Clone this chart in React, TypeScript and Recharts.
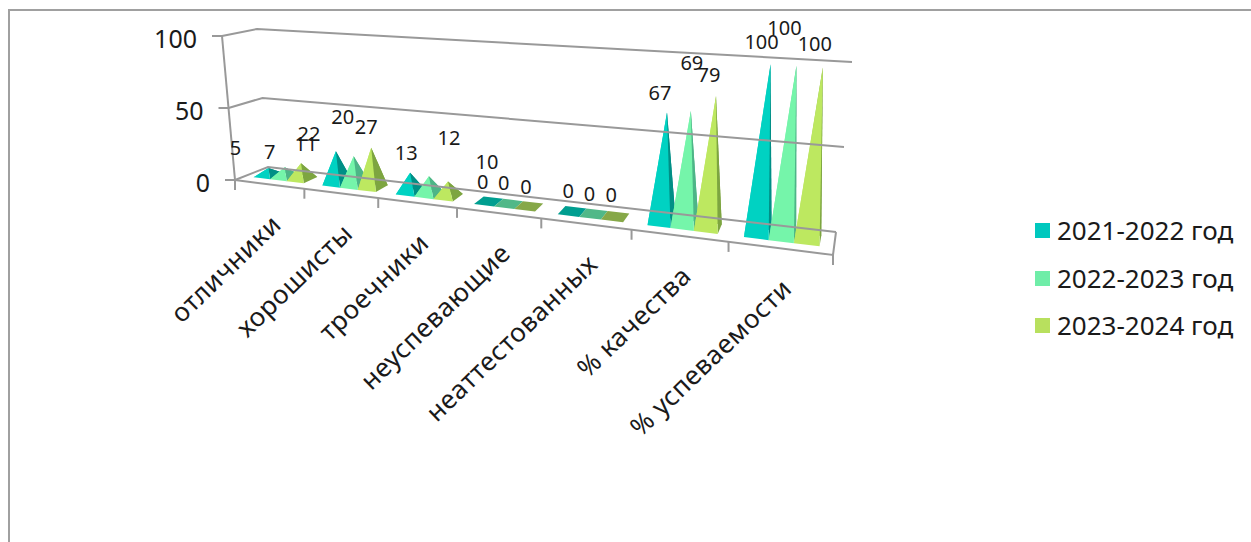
import { Bar, BarChart, LabelList, Legend, ReferenceLine, XAxis, YAxis } from 'recharts';

const categories = [
  'отличники',
  'хорошисты',
  'троечники',
  'неуспевающие',
  'неаттестованных',
  '% качества',
  '% успеваемости',
];
const seriesNames = ['2021-2022 год', '2022-2023 год', '2023-2024 год'];
const values2021 = [5, 22, 13, 0, 0, 67, 100];
const values2022 = [7, 20, 12, 0, 0, 69, 100];
const values2023 = [11, 27, 10, 0, 0, 79, 100];
const valueTicks = [0, 50, 100];

const seriesValues = [values2021, values2022, values2023];
const chartData = categories.map((name, i) => ({
  name,
  a: values2021[i],
  b: values2022[i],
  c: values2023[i],
}));

const legendColors = ['#00c8be', '#6feda8', '#b8e05e'];
const frontColors = ['#00d2c2', '#75f5aa', '#bde860'];
const sideColors = ['#008f86', '#4db587', '#7da540'];
const baseColors = ['#009e90', '#50b888', '#86a848'];

// label offsets from each pyramid tip, per series then per category
const labelNudges = [
  [[-33, -21], [-27, -18], [-4, -20], [-6, -20], [-4, -21], [-7, -20], [-9, -23]],
  [[-15, -16], [-11, -40], [20, -39], [-5, -21], [-4, -21], [1, -48], [-12, -38]],
  [[5, -20], [-5, -21], [39, -20], [-3, -20], [-4, -22], [-7, -22], [-8, -24]],
];

const FONT = '"Noto Sans", sans-serif';
const TEXT = '#1a1a1a';
const LINE = '#999999';
const WIDTH = 1251;
const HEIGHT = 542;
const PLOT = { left: 100, top: 50, width: 800, height: 450 };

// the flat plot is mapped on a box seen in perspective: [x, y] of its corners
const FLOOR_FRONT = [[235, 180], [833, 255]];
const FLOOR_BACK = [[268, 167], [836, 232]];
const TOP_FRONT = [[222, 36], [850, 77]];
const TOP_BACK = [[257, 29], [852, 62]];

const mix = (a: number, b: number, k: number) => a + (b - a) * k;

function project(u: number, v: number, w: number) {
  const t = u / (u + (1 - u) * 1.27);
  const at = (edge: number[][], axis: number) => mix(edge[0][axis], edge[1][axis], t);
  const point = (axis: number) =>
    mix(
      mix(at(FLOOR_FRONT, axis), at(FLOOR_BACK, axis), w),
      mix(at(TOP_FRONT, axis), at(TOP_BACK, axis), w),
      v,
    );
  return [point(0), point(1)];
}

const toU = (x: number) => (x - PLOT.left) / PLOT.width;
const toV = (y: number) => (PLOT.top + PLOT.height - y) / PLOT.height;
const pts = (list: number[][]) => list.map((p) => p.join(',')).join(' ');

const DEPTH_FRONT = 0.3;
const DEPTH_BACK = 0.75;
const DEPTH_MID = (DEPTH_FRONT + DEPTH_BACK) / 2;

function makePyramid(seriesIndex: number) {
  return function Pyramid(props: any) {
    const { x, y, width, value } = props;
    const u0 = toU(x);
    const u1 = toU(x + width);
    const fl = project(u0, 0, DEPTH_FRONT);
    const fr = project(u1, 0, DEPTH_FRONT);
    const br = project(u1, 0, DEPTH_BACK);
    const bl = project(u0, 0, DEPTH_BACK);
    const tip = project((u0 + u1) / 2, toV(y), DEPTH_MID);
    const front = frontColors[seriesIndex];
    const side = sideColors[seriesIndex];
    if (!value) {
      return <polygon points={pts([fl, fr, br, bl])} fill={baseColors[seriesIndex]} />;
    }
    return (
      <g>
        <polygon points={pts([bl, br, tip])} fill={side} />
        <polygon points={pts([fl, bl, tip])} fill={front} />
        <polygon points={pts([fr, br, tip])} fill={side} />
        <polygon points={pts([fl, fr, tip])} fill={front} />
      </g>
    );
  };
}

function makeValueLabel(seriesIndex: number) {
  return function ValueLabel(props: any) {
    const { x, y, width, index } = props;
    const tip = project(toU(x + width / 2), toV(y), DEPTH_MID);
    const [dx, dy] = labelNudges[seriesIndex][index];
    return (
      <text
        x={tip[0] + dx}
        y={tip[1] + dy}
        textAnchor="middle"
        dominantBaseline="central"
        fontFamily={FONT}
        fontSize={20}
        fill={TEXT}
      >
        {seriesValues[seriesIndex][index]}
      </text>
    );
  };
}

function CategoryTick(props: any) {
  const { x, index, payload } = props;
  const band = PLOT.width / categories.length;
  const edge = project(toU(x + band / 2), 0, 0);
  const start = project(toU(x - band / 2), 0, 0);
  const mid = project(toU(x), 0, 0);
  const endX = mid[0] - 2;
  const endY = mid[1] + 26;
  return (
    <g>
      <line x1={edge[0]} y1={edge[1]} x2={edge[0]} y2={edge[1] + 10} stroke={LINE} strokeWidth={2} />
      {index === 0 && (
        <line x1={start[0]} y1={start[1]} x2={start[0]} y2={start[1] + 10} stroke={LINE} strokeWidth={2} />
      )}
      <text
        x={endX}
        y={endY}
        textAnchor="end"
        dominantBaseline="hanging"
        transform={`rotate(-44 ${endX} ${endY})`}
        fontFamily={FONT}
        fontSize={26}
        letterSpacing={0.6}
        fill={TEXT}
      >
        {payload.value}
      </text>
    </g>
  );
}

function ValueTick(props: any) {
  const { y, payload } = props;
  const p = project(0, toV(y), 0);
  return (
    <g>
      <line x1={p[0] - 10} y1={p[1]} x2={p[0]} y2={p[1]} stroke={LINE} strokeWidth={2} />
      <text
        x={p[0] - 25}
        y={p[1] + 2}
        textAnchor="end"
        dominantBaseline="central"
        fontFamily={FONT}
        fontSize={25}
        fill={TEXT}
      >
        {payload.value}
      </text>
    </g>
  );
}

// wall lines for one level; the floor level also draws the floor outline
function WallLine(props: any) {
  const { y1 } = props;
  const v = toV(y1);
  const path = [project(0, v, 0), project(0, v, 1), project(1, v, 1)];
  return (
    <g fill="none" stroke={LINE} strokeWidth={2}>
      <polyline points={pts(path)} />
      {v < 0.01 && <polyline points={pts([project(0, 0, 0), project(1, 0, 0), project(1, 0, 1)])} />}
      {v > 0.99 && <polyline points={pts([project(0, 0, 0), project(0, 1, 0)])} />}
    </g>
  );
}

function LegendList() {
  return (
    <div style={{ fontFamily: FONT, fontSize: 26, color: TEXT, lineHeight: '47.5px' }}>
      {seriesNames.map((name, i) => (
        <div key={name} style={{ display: 'flex', alignItems: 'center', whiteSpace: 'nowrap' }}>
          <span style={{ width: 15, height: 15, background: legendColors[i], marginRight: 7 }} />
          {name}
        </div>
      ))}
    </div>
  );
}

export default function App() {
  return (
    <div style={{ position: 'absolute', left: 0, top: 0, width: WIDTH, height: HEIGHT, overflow: 'hidden', background: '#fff' }}>
      <div
        style={{
          position: 'absolute',
          left: 8,
          top: 9,
          width: WIDTH,
          height: HEIGHT,
          borderLeft: '2px solid #a0a0a0',
          borderTop: '2px solid #a0a0a0',
        }}
      />
      <div style={{ position: 'absolute', left: 0, top: 0 }}>
        <BarChart
          width={WIDTH}
          height={HEIGHT}
          data={chartData}
          margin={{ top: PLOT.top, right: WIDTH - PLOT.left - PLOT.width, bottom: 0, left: 0 }}
          barCategoryGap="13%"
          barGap={0}
        >
          <XAxis
            dataKey="name"
            height={HEIGHT - PLOT.top - PLOT.height}
            axisLine={false}
            tickLine={false}
            interval={0}
            tick={CategoryTick}
          />
          <YAxis
            width={PLOT.left}
            domain={[0, 100]}
            ticks={valueTicks}
            axisLine={false}
            tickLine={false}
            tick={ValueTick}
          />
          {valueTicks.map((tick) => (
            <ReferenceLine key={tick} y={tick} shape={WallLine} />
          ))}
          <Legend
            layout="vertical"
            align="center"
            verticalAlign="middle"
            wrapperStyle={{ left: 1035, top: 207, width: 216 }}
            content={LegendList}
          />
          {['a', 'b', 'c'].map((key, i) => (
            <Bar key={key} dataKey={key} name={seriesNames[i]} fill={legendColors[i]} shape={makePyramid(i)} isAnimationActive={false}>
              <LabelList dataKey={key} content={makeValueLabel(i)} />
            </Bar>
          ))}
        </BarChart>
      </div>
    </div>
  );
}
